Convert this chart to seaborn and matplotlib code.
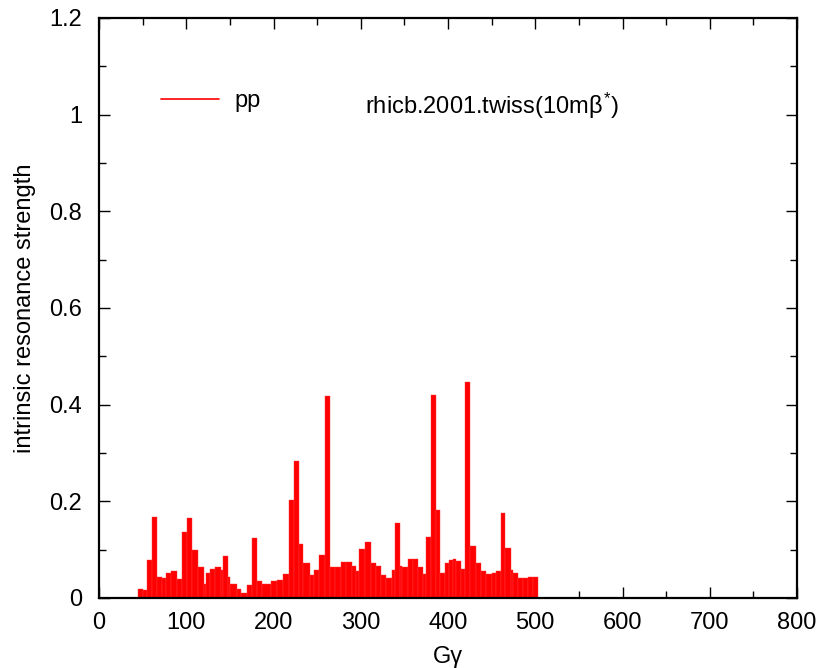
import numpy as np
import pandas as pd
import matplotlib
matplotlib.use("Agg")
import matplotlib.pyplot as plt
from matplotlib.lines import Line2D
from matplotlib.ticker import MultipleLocator
import seaborn as sns

# ---- data ----
gg_edges = [45.2, 51.0, 55.5, 60.7, 66.4, 72.6, 77.2, 82.9, 89.4, 95.6, 101.3, 106.6,
            113.5, 119.8, 122.6, 127.0, 133.2, 139.6, 142.2, 148.0, 150.7, 157.6, 163.3,
            169.1, 175.6, 181.3, 187.1, 197.0, 203.6, 211.2, 217.8, 223.5, 229.2, 234.2,
            241.3, 246.3, 252.0, 258.9, 264.3, 270.5, 276.9, 283.5, 289.5, 294.9, 297.9,
            304.5, 311.3, 317.0, 322.8, 329.3, 335.4, 339.3, 345.0, 347.8, 354.6, 360.0,
            365.7, 371.4, 374.5, 380.3, 386.0, 391.0, 396.4, 401.3, 405.2, 409.0, 414.8,
            419.4, 425.1, 432.0, 437.8, 443.5, 450.0, 455.0, 460.8, 465.7, 472.3, 474.9,
            480.6, 486.0, 491.5, 497.1, 502.9]
strength = [0.019, 0.016, 0.078, 0.167, 0.044, 0.042, 0.052, 0.056, 0.039, 0.136, 0.165,
            0.100, 0.065, 0.030, 0.051, 0.061, 0.065, 0.058, 0.087, 0.044, 0.028, 0.019,
            0.011, 0.026, 0.124, 0.035, 0.028, 0.035, 0.037, 0.049, 0.202, 0.283, 0.111,
            0.072, 0.047, 0.058, 0.088, 0.417, 0.065, 0.065, 0.075, 0.075, 0.067, 0.056,
            0.101, 0.115, 0.072, 0.066, 0.047, 0.042, 0.058, 0.155, 0.067, 0.065, 0.080,
            0.080, 0.065, 0.049, 0.126, 0.419, 0.183, 0.052, 0.073, 0.078, 0.080, 0.076,
            0.059, 0.447, 0.108, 0.072, 0.056, 0.049, 0.051, 0.056, 0.176, 0.103, 0.058,
            0.051, 0.042, 0.042, 0.044, 0.044]
series_label = "pp"
note_text = r"rhicb.2001.twiss(10m$\beta^{*}$)"
x_label = "G\u03b3"
y_label = "intrinsic resonance strength"

edges = np.array(gg_edges)
df = pd.DataFrame({"gg": (edges[:-1] + edges[1:]) / 2, "s": strength})

sns.set_style("ticks")
plt.rcParams["font.family"] = ["Liberation Sans", "DejaVu Sans"]
plt.rcParams["mathtext.fontset"] = "custom"
plt.rcParams["mathtext.rm"] = "Liberation Sans"
plt.rcParams["mathtext.it"] = "Liberation Sans"
plt.rcParams["mathtext.bf"] = "Liberation Sans"
for k in ["text.color", "axes.labelcolor", "xtick.color", "ytick.color", "axes.edgecolor"]:
    plt.rcParams[k] = "black"

fig = plt.figure(figsize=(8.21, 6.68), dpi=100)
ax = fig.add_axes([99 / 821, 1 - 598 / 668, (797 - 99) / 821, (598 - 18) / 668])

sns.histplot(data=df, x="gg", weights="s", bins=list(gg_edges), stat="count",
             element="bars", fill=True, color="#ff0000", alpha=1.0,
             edgecolor="#ff3a3a", linewidth=0.3, ax=ax)

ax.set_xlim(0, 800)
ax.set_ylim(0, 1.2)
ax.xaxis.set_major_locator(MultipleLocator(100))
ax.xaxis.set_minor_locator(MultipleLocator(50))
ax.yaxis.set_minor_locator(MultipleLocator(0.1))
ax.set_yticks([0, 0.2, 0.4, 0.6, 0.8, 1.0, 1.2])
ax.set_yticklabels(["0", "0.2", "0.4", "0.6", "0.8", "1", "1.2"])

for side in ["top", "bottom", "left", "right"]:
    ax.spines[side].set_visible(True)
    ax.spines[side].set_linewidth(1.6)
    ax.spines[side].set_color("black")

ax.tick_params(which="both", direction="in", top=True, right=True,
               width=1.0, color="black", labelcolor="black")
ax.tick_params(which="major", length=8)
ax.tick_params(which="minor", length=5)
ax.tick_params(axis="x", which="major", labelsize=17, pad=10)
ax.tick_params(axis="y", which="major", labelsize=17, pad=12)

ax.set_xlabel(x_label, fontsize=17, labelpad=9, color="black")
ax.set_ylabel(y_label, fontsize=17, labelpad=10, color="black")

handle = Line2D([], [], color="#ff0000", lw=1.2)
ax.legend([handle], [series_label], loc="center left",
          bbox_to_anchor=(0.075, 0.857), frameon=False, fontsize=17,
          handlelength=2.45, handletextpad=0.65, borderaxespad=0)

ax.text(0.381, 0.848, note_text, transform=ax.transAxes, fontsize=17,
        ha="left", va="center", color="black")

fig.savefig("out.png", dpi=100)
